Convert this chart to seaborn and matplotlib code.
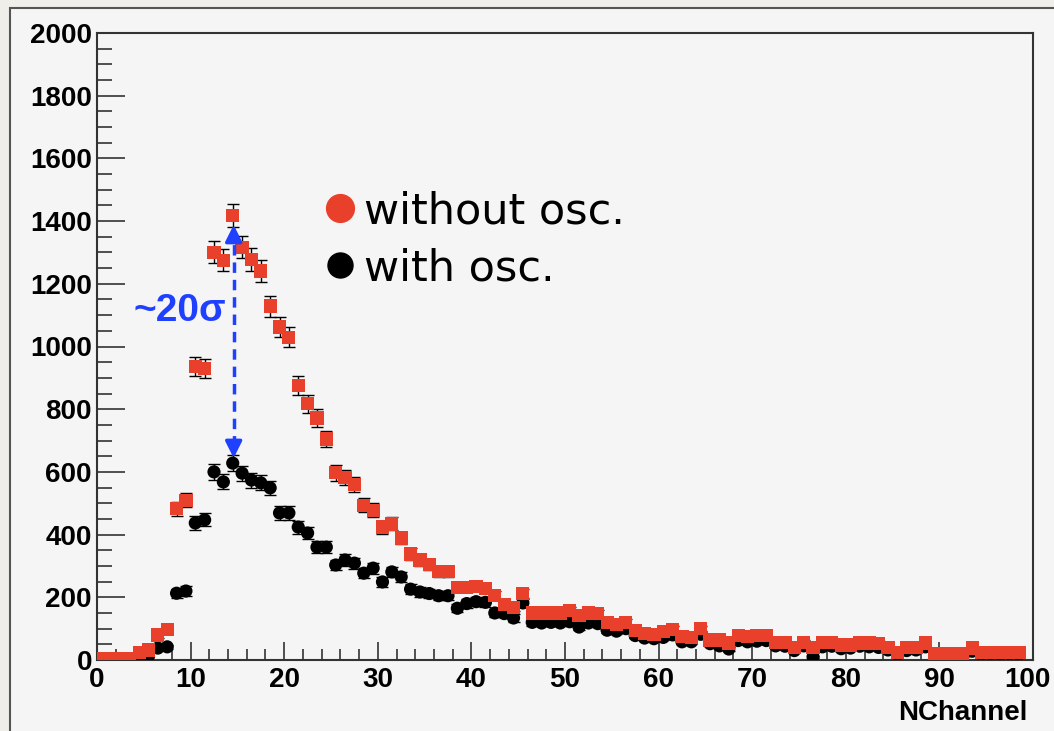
import numpy as np
import pandas as pd
import matplotlib
matplotlib.use('Agg')
import matplotlib.pyplot as plt
import seaborn as sns
from matplotlib.lines import Line2D
from matplotlib.patches import Rectangle
from matplotlib.ticker import MultipleLocator
from matplotlib.transforms import ScaledTranslation

# ---------------- data ----------------
bin_low_edges = np.arange(0, 99)          # 1-unit wide NChannel bins
without_osc = [5, 5, 5, 5, 25, 32, 80, 96, 482, 510,
               935, 931, 1301, 1275, 1418, 1317, 1278, 1241, 1129, 1062,
               1030, 875, 817, 772, 705, 597, 583, 561, 494, 478,
               424, 434, 389, 338, 319, 305, 281, 281, 232, 232,
               234, 228, 207, 178, 168, 213, 150, 150, 150, 150,
               158, 143, 150, 148, 120, 112, 120, 95, 85, 82,
               90, 98, 74, 72, 100, 64, 64, 54, 77, 76,
               77, 78, 57, 57, 41, 57, 41, 57, 57, 48,
               48, 54, 54, 52, 41, 25, 41, 41, 54, 22,
               22, 22, 22, 38, 25, 25, 25, 25, 25]
with_osc = [2, 2, 2, 2, 8, 12, 38, 42, 213, 220,
            437, 447, 600, 568, 628, 596, 574, 565, 549, 469,
            469, 424, 405, 360, 360, 303, 319, 309, 277, 293,
            249, 281, 265, 226, 217, 212, 205, 205, 165, 180,
            186, 184, 150, 148, 134, 182, 120, 118, 120, 118,
            122, 105, 118, 116, 95, 92, 100, 78, 70, 68,
            72, 80, 58, 58, 82, 52, 45, 35, 62, 58,
            60, 62, 45, 44, 30, 45, 10, 42, 44, 36,
            38, 44, 42, 40, 32, 18, 30, 32, 42, 16,
            15, 17, 15, 28, 18, 20, 18, 20, 18]
series_names = ['without osc.', 'with osc.']
x_ticks = [0, 10, 20, 30, 40, 50, 60, 70, 80, 90, 100]
y_ticks = [0, 200, 400, 600, 800, 1000, 1200, 1400, 1600, 1800, 2000]
x_label = 'NChannel'
annotation_text = '~20σ'
peak_bin = 14

RED = '#e8402a'
BLUE = '#2040ff'

# ---------------- style ----------------
sns.set_style('ticks')
plt.rcParams['font.family'] = ['Liberation Sans', 'DejaVu Sans']
plt.rcParams['text.color'] = 'black'
plt.rcParams['axes.labelcolor'] = 'black'

W, H = 1054, 731
fig = plt.figure(figsize=(W / 100, H / 100), dpi=100, facecolor='#efeee8')
panel = Rectangle((10 / W, -0.05), 1.1, 1 - 8 / H + 0.05, transform=fig.transFigure,
                  facecolor='#f5f5f5', edgecolor='#555555', lw=1.5, zorder=-5)
fig.add_artist(panel)

ax = fig.add_axes([97 / W, 1 - 660 / H, 936 / W, 627 / H])
ax.set_facecolor('#f5f5f5')

centers = bin_low_edges + 0.5
df = pd.DataFrame({
    'NChannel': np.concatenate([centers, centers]),
    'Entries': np.concatenate([with_osc, without_osc]),
    'Sample': [series_names[1]] * len(centers) + [series_names[0]] * len(centers),
})

# error bars (sqrt N)
for name, vals in [(series_names[1], with_osc), (series_names[0], without_osc)]:
    v = np.asarray(vals, dtype=float)
    ax.errorbar(centers, v, yerr=np.sqrt(v), fmt='none', ecolor='black',
                elinewidth=1, capsize=4, capthick=1, zorder=2)

sns.scatterplot(data=df, x='NChannel', y='Entries', hue='Sample', style='Sample',
                markers={series_names[0]: 's', series_names[1]: 'o'},
                palette={series_names[0]: RED, series_names[1]: 'black'},
                s=90, linewidth=0, legend=False, ax=ax, zorder=3)

# ---------------- annotation arrow ----------------
px_x = peak_bin + 0.6
top_y = without_osc[peak_bin] - 30
bot_y = with_osc[peak_bin] + 16
ax.plot([px_x, px_x], [bot_y + 40, top_y - 40], color=BLUE, lw=2.5,
        linestyle=(0, (3, 2)), zorder=4)
for tip, tail in [(top_y, top_y - 55), (bot_y, bot_y + 55)]:
    ax.annotate('', xy=(px_x, tip), xytext=(px_x, tail),
                arrowprops=dict(arrowstyle='-|>,head_length=1.0,head_width=0.5',
                                color=BLUE, lw=2.5, mutation_scale=10,
                                shrinkA=0, shrinkB=0), zorder=4)
ax.text(3.85, 1112, annotation_text, color=BLUE, fontsize=28, fontweight='bold',
        ha='left', va='center')

# ---------------- legend ----------------
handles = [Line2D([], [], marker='o', ls='', color=RED, markersize=20),
           Line2D([], [], marker='o', ls='', color='black', markersize=18)]
leg = ax.legend(handles, series_names, loc='upper left', bbox_to_anchor=(327 / W, 1 - 190 / H),
                bbox_transform=fig.transFigure, frameon=False,
                prop={'family': ['DejaVu Sans'], 'size': 31},
                handlelength=0.6, handletextpad=0.25, labelspacing=0.36,
                borderpad=0, borderaxespad=0)
for t in leg.get_texts():
    t.set_color('black')

# ---------------- axes ----------------
ax.set_xlim(0, 100)
ax.set_ylim(0, 2000)
ax.set_xticks(x_ticks)
ax.set_yticks(y_ticks)
ax.xaxis.set_minor_locator(MultipleLocator(2))
ax.yaxis.set_minor_locator(MultipleLocator(50))
ax.tick_params(axis='both', which='both', direction='in', top=False, right=False,
               colors='#222222', labelcolor='black', width=1.1, labelsize=20)
ax.tick_params(axis='y', which='major', length=20, pad=3.6)
ax.tick_params(axis='y', which='minor', length=11)
ax.tick_params(axis='x', which='major', length=13, pad=5)
ax.tick_params(axis='x', which='minor', length=8)
for lab in ax.get_xticklabels() + ax.get_yticklabels():
    lab.set_fontweight('bold')
last = ax.xaxis.get_major_ticks()[-1].label1
last.set_transform(last.get_transform() + ScaledTranslation(-6 / 100, 0, fig.dpi_scale_trans))
for sp in ax.spines.values():
    sp.set_color('#333333')
    sp.set_linewidth(1.5)
    sp.set_visible(True)

ax.set_ylabel('')
ax.set_xlabel(x_label, fontsize=20, fontweight='bold', loc='right')
ax.xaxis.set_label_coords((1027 - 97) / 936, -(713 - 660) / 627)
ax.xaxis.label.set_va('center')

fig.savefig('out.png', dpi=100, facecolor=fig.get_facecolor())
